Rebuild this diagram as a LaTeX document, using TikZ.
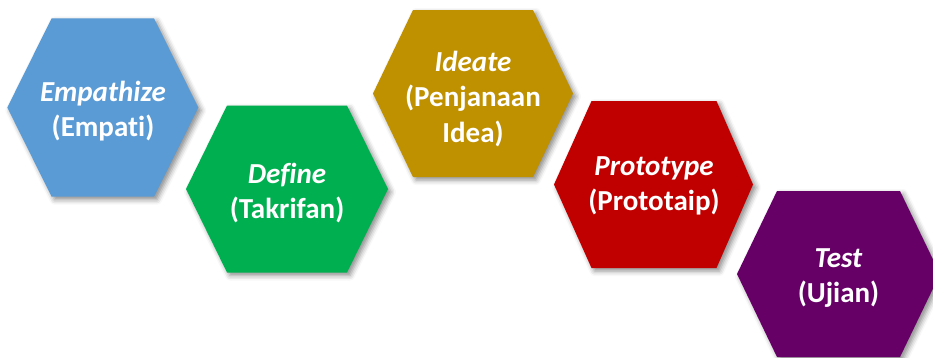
\documentclass[tikz,border=0pt]{standalone}
\usepackage{fontspec}
\setmainfont[Ligatures={NoCommon}]{Carlito}
\usetikzlibrary{shadows.blur}
\definecolor{cblue}{HTML}{5B9BD5}
\definecolor{cgreen}{HTML}{00B050}
\definecolor{cgold}{HTML}{BF9000}
\definecolor{cred}{HTML}{C00000}
\definecolor{cpurple}{HTML}{660066}
\begin{document}
\begin{tikzpicture}[x=1pt,y=-1pt,
  hexa/.style={blur shadow={shadow xshift=3pt,shadow yshift=-3pt,shadow blur radius=5pt,shadow opacity=45}},
  lbl/.style={text=white,font=\fontsize{29}{35.5}\selectfont\bfseries,align=center,inner sep=0pt}]
\useasboundingbox (0,0) rectangle (933,357);
% hexagons
\path[hexa,fill=cblue] (7.3,107.5) -- (51.6,18.3) -- (154,18.3) -- (198.3,107.5) -- (154,196.7) -- (51.6,196.7) -- cycle;
\path[hexa,fill=cgreen] (186,189) -- (227,105.5) -- (347,105.5) -- (388,189) -- (347,272.5) -- (227,272.5) -- cycle;
\path[hexa,fill=cgold] (373,93.5) -- (413,10) -- (533,10) -- (573,93.5) -- (533,177) -- (413,177) -- cycle;
\path[hexa,fill=cred] (554,184.5) -- (591.5,101) -- (716.5,101) -- (753,184.5) -- (716.5,268) -- (591.5,268) -- cycle;
\path[hexa,fill=cpurple] (737,274) -- (777,191) -- (900,191) -- (940,274) -- (900,357) -- (777,357) -- cycle;
% labels
\node[lbl] (emp) at (103,111) {{\itshape Empathize}\\(Empati)};
\node[lbl] (def) at (287,193) {{\itshape Define}\\(Takrifan)};
\node[lbl] (ide) at (473,99) {{\itshape Ideate}\\(Penjanaan\\Idea)};
\node[lbl] (pro) at (654,186) {{\itshape Prototype}\\(Prototaip)};
\node[lbl] (tes) at (838.5,278) {{\itshape Test}\\(Ujian)};
\end{tikzpicture}
\end{document}
